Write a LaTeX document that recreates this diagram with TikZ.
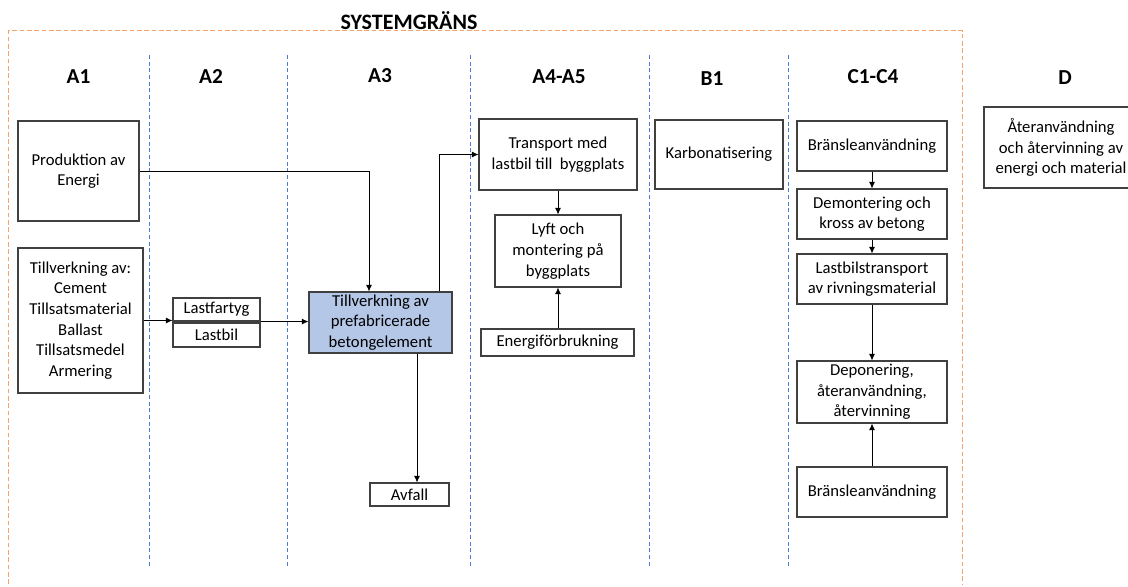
\documentclass[tikz,border=0pt]{standalone}
\usepackage{fontspec}
\setmainfont{Carlito}
\usetikzlibrary{arrows.meta,calc}
\definecolor{boxline}{HTML}{404040}
\definecolor{prefabfill}{HTML}{B4C7E7}
\definecolor{bordercol}{HTML}{F4A46A}
\definecolor{lanecol}{HTML}{4A7BD6}
\begin{document}
\begin{tikzpicture}[x=0.75pt,y=-0.75pt,
  box/.style={draw=boxline, line width=0.8pt, align=center, inner sep=1pt,
    font=\fontsize{12.5}{15.5}\selectfont},
  sz/.style 2 args={minimum width=#1*0.75pt, minimum height=#2*0.75pt},
  arr/.style={-{Latex[length=5pt,width=4.5pt]}, line width=0.6pt},
  head/.style={font=\fontsize{16}{19}\selectfont\bfseries, anchor=base, inner sep=0pt},
  lane/.style={draw=lanecol, dash pattern=on 3pt off 2pt, line width=0.85pt},
  sysb/.style={draw=bordercol, dash pattern=on 3.5pt off 2pt, line width=1pt}]
\useasboundingbox (0,0) rectangle (1128,586);
\clip (0,0) rectangle (1128,586);
% system boundary and lanes
\draw[sysb] (8.5,584) -- (8.5,30.5) -- (962.5,30.5) -- (962.5,584);
\foreach \xx in {149.5,287.5,470.5,649.5,788.5} \draw[lane] (\xx,55) -- (\xx,567);
\node[font=\fontsize{16.5}{19}\selectfont\bfseries, inner sep=0pt, anchor=base] (title) at (409,29) {SYSTEMGRÄNS};
% headings
\node[head] (hA1) at (78.5,83) {A1};
\node[head] (hA2) at (211,83) {A2};
\node[head] (hA3) at (380,82) {A3};
\node[head] (hA4) at (559,83) {A4-A5};
\node[head] (hB1) at (712,85) {B1};
\node[head] (hC) at (873,83) {C1-C4};
\node[head] (hD) at (1065,84) {D};
% boxes
\node[box, sz={121}{100}] (prod) at (78.5,171) {Produktion av\\Energi};
\node[box, sz={125}{145}] (tillv) at (80.5,320.5) {Tillverkning av:\\Cement\\Tillsatsmaterial\\Ballast\\Tillsatsmedel\\Armering};
\node[box, sz={87}{23}] (lastf) at (216.5,309.5) {Lastfartyg};
\node[box, sz={87}{24}] (lastb) at (216.5,335) {Lastbil};
\node[box, sz={143}{61}, fill=prefabfill] (prefab) at (380.5,322.5) {Tillverkning av\\prefabricerade\\betongelement};
\node[box, sz={79}{23}] (avfall) at (409.5,494.5) {Avfall};
\node[box, sz={158}{71}] (transp) at (558,154.5) {Transport med\\lastbil till\ \ byggplats};
\node[box, sz={126}{72}] (lyft) at (558,251) {Lyft och\\montering på\\byggplats};
\node[box, sz={153}{27}] (energi) at (557.5,342.5) {Energiförbrukning};
\node[box, sz={128}{69}] (karb) at (719,154.5) {Karbonatisering};
\node[box, sz={150}{50}] (br1) at (872,146) {Bränsleanvändning};
\node[box, sz={150}{50}] (demo) at (872,214) {Demontering och\\kross av betong};
\node[box, sz={150}{50}] (lbt) at (872,279) {Lastbilstransport\\av rivningsmaterial};
\node[box, sz={150}{62}] (depo) at (872,392) {Deponering,\\återanvändning,\\återvinning};
\node[box, sz={150}{50}] (br2) at (872,492) {Bränsleanvändning};
\node[box, sz={154}{81}] (dbox) at (1061,147.5) {Återanvändning\\och återvinning av\\energi och material};
% connectors
\coordinate (pin) at ($(prefab.north)+(-11.5,0)$);
\coordinate (pout) at ($(prefab.north)+(58.5,0)$);
\coordinate (pdown) at ($(prefab.south)+(36.5,0)$);
\draw[arr] (prod.east) -| (pin);
\draw[arr] (tillv.east) -- (tillv.east -| lastf.south west);
\draw[arr] (lastf.south east) -- (prefab.west |- lastf.south east);
\draw[arr] (pout) |- (transp.west);
\draw[arr] (pdown) -- (pdown |- avfall.north);
\draw[arr] (transp.south) -- (lyft.north);
\draw[arr] (energi.north -| lyft.south) -- (lyft.south);
\draw[arr] (br1.south) -- (demo.north);
\draw[arr] (demo.south) -- (lbt.north);
\draw[arr] (lbt.south) -- (depo.north);
\draw[arr] (br2.north) -- (depo.south);
\end{tikzpicture}
\end{document}
